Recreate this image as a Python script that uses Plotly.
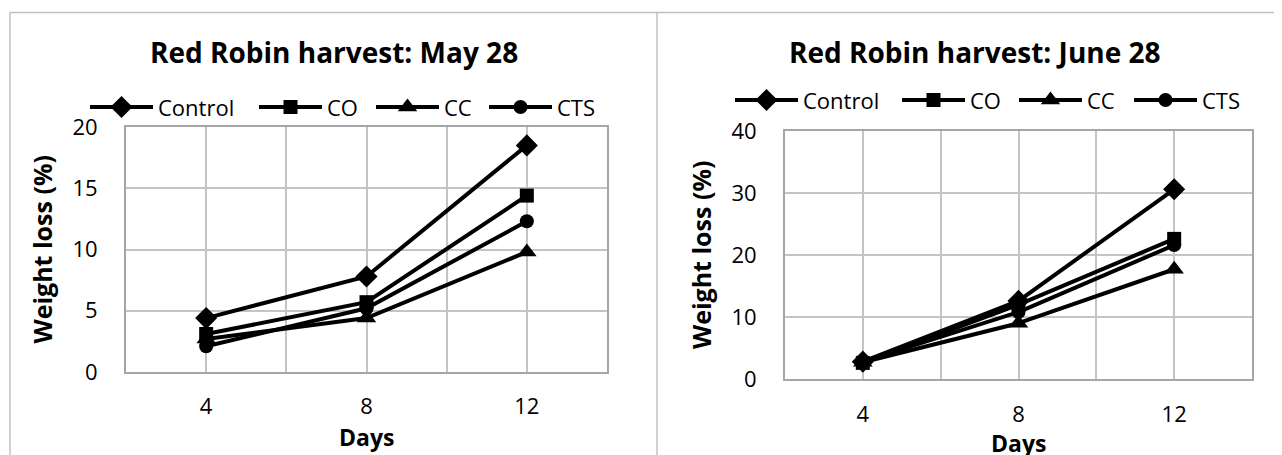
import plotly.graph_objects as go

# Page places the figure 8px from the window's top-left corner (body margin),
# so the figure is sized to fill the rest of the 1282x455 window.
OFF = 8
W, H = 1282 - OFF, 455 - OFF

days = [4, 8, 12]
series_names = ["Control", "CO", "CC", "CTS"]
symbols = ["diamond", "square", "triangle-up", "circle"]
marker_sizes = [17, 14, 17, 14]

may_control = [4.4, 7.8, 18.5]
may_co = [3.1, 5.7, 14.4]
may_cc = [2.7, 4.4, 9.8]
may_cts = [2.1, 5.2, 12.3]

june_control = [2.8, 12.6, 30.6]
june_co = [2.6, 12.0, 22.6]
june_cc = [2.7, 9.0, 17.7]
june_cts = [2.8, 10.8, 21.6]

x_tickvals = [2, 4, 6, 8, 10, 12, 14]
x_ticktext = ["", "4", "", "8", "", "12", ""]

FONT = "Open Sans"


def px_x(p):
    return (p - OFF) / W


def px_y(p):
    return 1 - (p - OFF) / H


panels = [
    dict(xa="x", ya="y", data=[may_control, may_co, may_cc, may_cts],
         xdom=(126, 607), ydom=(127, 372), yrange=[0, 20], dtick=5,
         title="Red Robin harvest: May 28", tx=334, ty=52, legy=107,
         legx=[90, 259, 376, 489], ytitle_x=41, days_y=437, xstand=14, ystand=22),
    dict(xa="x2", ya="y2", data=[june_control, june_co, june_cc, june_cts],
         xdom=(785, 1252), ydom=(131, 379), yrange=[0, 40], dtick=10,
         title="Red Robin harvest: June 28", tx=975, ty=52, legy=100,
         legx=[735, 902, 1019, 1134], ytitle_x=701, days_y=443, xstand=15, ystand=22),
]

fig = go.Figure()

for p in panels:
    for name, sym, ms, vals in zip(series_names, symbols, marker_sizes, p["data"]):
        fig.add_trace(go.Scatter(
            x=days, y=vals, mode="lines+markers", name=name,
            xaxis=p["xa"], yaxis=p["ya"], showlegend=False,
            line=dict(color="black", width=4),
            marker=dict(symbol=sym, size=ms, color="black", opacity=1),
            cliponaxis=False,
        ))

layout_axes = {}
for i, p in enumerate(panels):
    sfx = "" if i == 0 else "2"
    layout_axes["xaxis" + sfx] = dict(
        domain=[px_x(p["xdom"][0]), px_x(p["xdom"][1])],
        anchor="y" + sfx, range=[2, 14], tickvals=x_tickvals, ticktext=x_ticktext,
        showgrid=True, gridcolor="#c4c4c4", gridwidth=2,
        showline=True, linecolor="#a6a6a6", linewidth=2, mirror=True,
        zeroline=False, ticks="", ticklabelstandoff=p["xstand"], automargin=False,
        tickfont=dict(family=FONT, size=22, color="black"),
        fixedrange=True,
    )
    layout_axes["yaxis" + sfx] = dict(
        domain=[px_y(p["ydom"][1]), px_y(p["ydom"][0])],
        anchor="x" + sfx, range=p["yrange"], dtick=p["dtick"],
        showgrid=True, gridcolor="#c4c4c4", gridwidth=2,
        showline=True, linecolor="#a6a6a6", linewidth=2, mirror=True,
        zeroline=False, ticks="", ticklabelstandoff=p["ystand"], automargin=False,
        tickfont=dict(family=FONT, size=22, color="black"),
        fixedrange=True,
    )

annotations = []
shapes = []
for p in panels:
    annotations.append(dict(text="<b>" + p["title"] + "</b>", x=px_x(p["tx"]), y=px_y(p["ty"]),
                            xref="paper", yref="paper", showarrow=False,
                            xanchor="center", yanchor="middle",
                            font=dict(family=FONT, size=28, color="black")))
    ymid = (p["ydom"][0] + p["ydom"][1]) / 2
    annotations.append(dict(text="<b>Weight loss (%)</b>", x=px_x(p["ytitle_x"]), y=px_y(ymid),
                            xref="paper", yref="paper", showarrow=False, textangle=-90,
                            xanchor="center", yanchor="middle",
                            font=dict(family=FONT, size=25, color="black")))
    xmid = (p["xdom"][0] + p["xdom"][1]) / 2
    annotations.append(dict(text="<b>Days</b>", x=px_x(xmid), y=px_y(p["days_y"]),
                            xref="paper", yref="paper", showarrow=False,
                            xanchor="center", yanchor="middle",
                            font=dict(family=FONT, size=23, color="black")))
    for lx, name in zip(p["legx"], series_names):
        ly = px_y(p["legy"])
        shapes.append(dict(type="line", xref="paper", yref="paper", layer="below",
                           x0=px_x(lx), x1=px_x(lx + 63), y0=ly, y1=ly,
                           line=dict(color="black", width=4)))
        annotations.append(dict(text=name, x=px_x(lx + 66), y=ly, xref="paper", yref="paper",
                                xanchor="left", yanchor="middle", showarrow=False,
                                font=dict(family=FONT, size=22, color="black")))

leg_x, leg_y, leg_sym, leg_size = [], [], [], []
for p in panels:
    for lx, sym, ms in zip(p["legx"], symbols, marker_sizes):
        leg_x.append(px_x(lx + 31.5))
        leg_y.append(px_y(p["legy"]))
        leg_sym.append(sym)
        leg_size.append(ms)
fig.add_trace(go.Scatter(x=leg_x, y=leg_y, mode="markers", xaxis="x3", yaxis="y3",
                         showlegend=False, hoverinfo="skip", cliponaxis=False,
                         marker=dict(symbol=leg_sym, size=leg_size, color="black", opacity=1,
                                     line=dict(width=0))))
layout_axes["xaxis3"] = dict(domain=[0, 1], range=[0, 1], visible=False, anchor="y3",
                             fixedrange=True, automargin=False)
layout_axes["yaxis3"] = dict(domain=[0, 1], range=[0, 1], visible=False, anchor="x3",
                             fixedrange=True, automargin=False)

frame_col = "#c0c0c0"
shapes.append(dict(type="line", xref="paper", yref="paper", x0=px_x(10), x1=1.02,
                   y0=px_y(12.5), y1=px_y(12.5), line=dict(color=frame_col, width=1.5)))
shapes.append(dict(type="line", xref="paper", yref="paper", x0=px_x(10), x1=px_x(10),
                   y0=px_y(12.5), y1=-0.05, line=dict(color=frame_col, width=1.5)))
shapes.append(dict(type="line", xref="paper", yref="paper", x0=px_x(657), x1=px_x(657),
                   y0=px_y(12.5), y1=-0.05, line=dict(color=frame_col, width=1.5)))

fig.update_layout(
    width=W, height=H, margin=dict(l=0, r=0, t=0, b=0, autoexpand=False),
    paper_bgcolor="white", plot_bgcolor="rgba(0,0,0,0)",
    annotations=annotations, shapes=shapes, showlegend=False,
    **layout_axes,
)

fig.write_html("out.html", config={"displayModeBar": False})
